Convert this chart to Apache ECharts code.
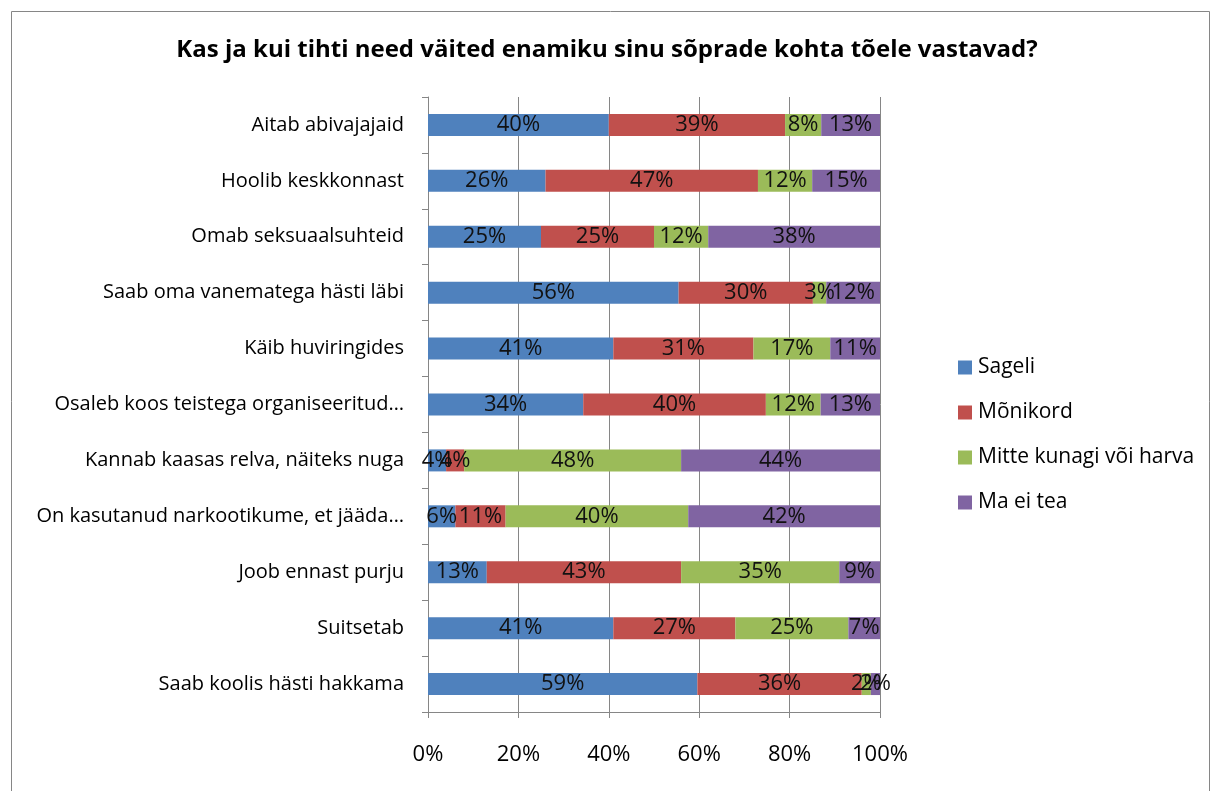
<!DOCTYPE html>
<html><head><meta charset="utf-8">
<script src="https://cdn.jsdelivr.net/npm/echarts@6/dist/echarts.min.js"></script>
<style>html,body{margin:0;padding:0;background:#fff}#c{width:1214px;height:791px}</style>
</head><body><div id="c"></div>
<script>
const categories = [
  "Aitab abivajajaid",
  "Hoolib keskkonnast",
  "Omab seksuaalsuhteid",
  "Saab oma vanematega hästi läbi",
  "Käib huviringides",
  "Osaleb koos teistega organiseeritud…",
  "Kannab kaasas relva, näiteks nuga",
  "On kasutanud narkootikume, et jääda…",
  "Joob ennast purju",
  "Suitsetab",
  "Saab koolis hästi hakkama"
];
const seriesNames = ["Sageli", "Mõnikord", "Mitte kunagi või harva", "Ma ei tea"];
const sageli     = [40, 26, 25, 56, 41, 34, 4, 6, 13, 41, 59];
const monikord   = [39, 47, 25, 30, 31, 40, 4, 11, 43, 27, 36];
const mitte      = [8, 12, 12, 3, 17, 12, 48, 40, 35, 25, 2];
const maEiTea    = [13, 15, 38, 12, 11, 13, 44, 42, 9, 7, 2];
const xTicks = ["0%", "20%", "40%", "60%", "80%", "100%"];

const colors = ["#4F81BD", "#C0504D", "#9BBB59", "#8064A2"];
const raw = [sageli, monikord, mitte, maEiTea];
const totals = categories.map((_, i) => raw.reduce((s, a) => s + a[i], 0));
const FONT = "'Open Sans', 'Noto Sans', sans-serif";

const chart = echarts.init(document.getElementById('c'), null, {renderer: 'canvas'});
chart.setOption({
  animation: false,
  backgroundColor: '#fff',
  color: colors,
  graphic: [{
    type: 'rect', left: 9, top: 9, shape: {width: 1198, height: 800},
    style: {fill: 'none', stroke: '#868686', lineWidth: 1}, silent: true
  }],
  title: {
    text: "Kas ja kui tihti need väited enamiku sinu sõprade kohta tõele vastavad?",
    left: 'center', top: 33,
    textStyle: {fontFamily: FONT, fontWeight: 'bold', fontSize: 24, color: '#000'}
  },
  legend: {
    orient: 'vertical', left: 953, top: 352, itemGap: 24,
    itemWidth: 14, itemHeight: 14, icon: 'rect',
    textStyle: {fontFamily: FONT, fontSize: 21, color: '#000', padding: [0, 0, 0, 1]},
    data: seriesNames
  },
  grid: {left: 428, right: 334, top: 97, bottom: 79, containLabel: false},
  xAxis: {
    type: 'value', min: 0, max: 100, interval: 20,
    axisLine: {show: true, lineStyle: {color: '#868686'}},
    axisTick: {show: true, length: 6, lineStyle: {color: '#868686'}},
    splitLine: {show: true, lineStyle: {color: '#868686', width: 1}},
    axisLabel: {margin: 32, fontFamily: FONT, fontSize: 22, color: '#000',
      formatter: v => xTicks[Math.round(v / 20)]}
  },
  yAxis: {
    type: 'category', inverse: true, data: categories,
    axisLine: {show: true, lineStyle: {color: '#868686'}},
    axisTick: {show: true, length: 6, lineStyle: {color: '#868686'}},
    axisLabel: {margin: 24, fontFamily: FONT, fontSize: 20, color: '#000'}
  },
  series: seriesNames.map((name, k) => ({
    name, type: 'bar', stack: 'total', barWidth: 22,
    data: raw[k].map((v, i) => ({value: v * 100 / totals[i], raw: v})),
    label: {
      show: true, position: 'inside', fontFamily: FONT, fontSize: 22, color: '#111',
      formatter: p => p.data.raw + '%'
    },
    labelLayout: {hideOverlap: false}
  }))
});
</script></body></html>
